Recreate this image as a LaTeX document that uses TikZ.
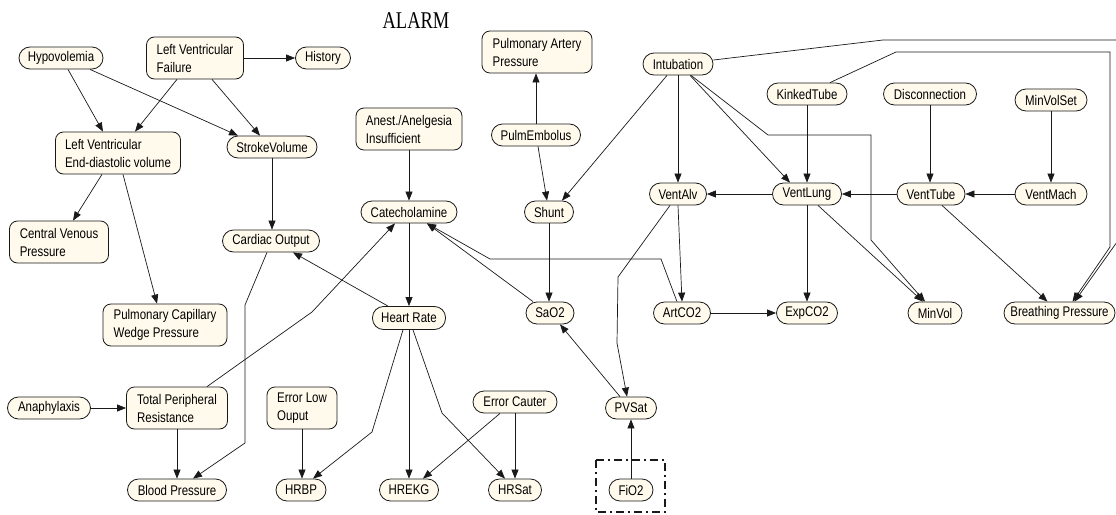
\documentclass[tikz,border=0pt]{standalone}
\usepackage{fontspec}
\setmainfont{Liberation Sans}[FakeStretch=0.82]
\newfontfamily\titlefont{Liberation Serif}[FakeStretch=0.77]
\usetikzlibrary{arrows.meta}
\definecolor{nodefill}{RGB}{255,250,236}
\definecolor{edgecol}{RGB}{25,25,25}
\begin{document}
\begin{tikzpicture}[x=1pt,y=-1pt,
  var/.style={draw=edgecol, fill=nodefill, line width=0.8pt, rounded corners=11pt,
    minimum height=22pt, inner xsep=1pt, inner ysep=0pt,
    font=\fontsize{14}{18}\selectfont},
  var2/.style={var, rounded corners=8pt, minimum height=42pt, align=left},
  link/.style={draw=edgecol, line width=0.7pt, -{Triangle[length=9pt,width=7pt]}},
  plain/.style={draw=edgecol, line width=0.7pt},
]
\useasboundingbox (0,0) rectangle (1116,514);
\clip (0,0) rectangle (1116,514);

% title
\node (title) at (416,21) {\titlefont\fontsize{24}{24}\selectfont ALARM};

% variables
\node[var, minimum width=84pt] (hypo) at (61,58) {Hypovolemia};
\node[var2, minimum width=97pt] (lvf) at (195,58) {Left Ventricular\\Failure};
\node[var, minimum width=55pt] (hist) at (323,58) {History};
\node[var2, minimum width=125pt] (lvedv) at (118,153) {Left Ventricular\\End-diastolic volume};
\node[var, minimum width=90pt] (sv) at (272,147) {StrokeVolume};
\node[var2, minimum width=99pt] (cvp) at (59,242) {Central Venous\\Pressure};
\node[var, minimum width=97pt] (co) at (271,241) {Cardiac Output};
\node[var2, minimum width=124pt] (pcwp) at (165,325) {Pulmonary Capillary\\Wedge Pressure};
\node[var, minimum width=83pt] (ana) at (49,408) {Anaphylaxis};
\node[var2, minimum width=101pt] (tpr) at (177,408) {Total Peripheral\\Resistance};
\node[var2, minimum width=70pt] (elo) at (302,408) {Error Low\\Ouput};
\node[var, minimum width=99pt] (bp) at (177,490) {Blood Pressure};
\node[var, minimum width=50pt] (hrbp) at (301,490) {HRBP};

\node[var2, minimum width=110pt] (pap) at (537,52) {Pulmonary Artery\\Pressure};
\node[var, minimum width=70pt] (intub) at (678,64) {Intubation};
\node[var2, minimum width=106pt] (anest) at (409,129) {Anest./Anelgesia\\Insufficient};
\node[var, minimum width=89pt] (pe) at (536,135) {PulmEmbolus};
\node[var, minimum width=96pt] (cat) at (409,212) {Catecholamine};
\node[var, minimum width=49pt] (shunt) at (549,212) {Shunt};
\node[var, minimum width=57pt] (ventalv) at (678,194) {VentAlv};

\node[var, minimum width=80pt] (kinked) at (807,94) {KinkedTube};
\node[var, minimum width=93pt] (disc) at (930,94) {Disconnection};
\node[var, minimum width=72pt] (mvs) at (1051,100) {MinVolSet};
\node[var, minimum width=69pt] (ventlung) at (807,194) {VentLung};
\node[var, minimum width=68pt] (venttube) at (931,194) {VentTube};
\node[var, minimum width=72pt] (ventmach) at (1051,194) {VentMach};

\node[var, minimum width=73pt, minimum height=23pt] (hr) at (409,318) {Heart Rate};
\node[var, minimum width=48pt] (sao2) at (550,313) {SaO2};
\node[var, minimum width=57pt] (artco2) at (682,313) {ArtCO2};
\node[var, minimum width=61pt] (expco2) at (807,313) {ExpCO2};
\node[var, minimum width=54pt] (minvol) at (935,313) {MinVol};
\node[var, minimum width=111pt] (bpress) at (1059.5,313) {Breathing Pressure};

\node[var, minimum width=84pt] (ecaut) at (515,402) {Error Cauter};
\node[var, minimum width=51pt] (pvsat) at (631,408) {PVSat};
\node[var, minimum width=59pt] (hrekg) at (409,490) {HREKG};
\node[var, minimum width=53pt] (hrsat) at (515,490) {HRSat};
\node[var, minimum width=44pt] (fio2) at (631,490) {FiO2};

% dash-dotted frame round the fixed input
\draw[edgecol, line width=1.6pt, dash pattern=on 8pt off 4pt on 2pt off 4pt]
  (596,460) rectangle (665,512);

% left part
\draw[link] ([xshift=7pt]hypo.south) -- ([xshift=-15pt]lvedv.north);
\draw[link] ([xshift=29pt]hypo.south) -- ([xshift=-34pt]sv.north);
\draw[link] ([xshift=-18pt]lvf.south) -- ([xshift=17pt]lvedv.north);
\draw[link] ([xshift=17pt]lvf.south) -- ([xshift=-12pt]sv.north);
\draw[link] (lvf.east) -- (hist.west);
\draw[link] ([xshift=-16pt]lvedv.south) -- ([xshift=14pt]cvp.north);
\draw[link] ([xshift=5pt]lvedv.south) -- ([xshift=-8pt]pcwp.north);
\draw[link] (sv.south) -- (sv.south |- co.north);
\draw[link] ([xshift=-4pt]co.south) -- (245,305) -- (245,443) -- ([xshift=16pt]bp.north);
\draw[link] (tpr.south) -- (bp.north);
\draw[link] (ana.east) -- (tpr.west);
\draw[link] ([xshift=30pt]tpr.north) -- (312,312) -- ([xshift=-14pt]cat.south);
\draw[link] ([xshift=-21pt]hr.north) -- ([xshift=22pt]co.south);
\draw[link] (elo.south) -- (elo.south |- hrbp.north);

% centre part
\draw[link] (anest.south) -- (cat.north);
\draw[link] (cat.south) -- (hr.north);
\draw[link] ([xshift=-17pt]sao2.north) -- ([xshift=18pt]cat.south);
\draw[link] ([xshift=-5pt]artco2.north) -- (661,259) -- (490,259) -- ([xshift=18pt]cat.south);
\draw[link] (pe.north) -- (pe.north |- pap.south);
\draw[link] ([xshift=2pt]pe.south) -- ([xshift=-2pt]shunt.north);
\draw[link] ([xshift=-11pt]intub.south) -- ([xshift=13pt]shunt.north);
\draw[link] (shunt.south) -- (shunt.south |- sao2.north);
\draw[link] ([xshift=-11pt]pvsat.north) -- ([xshift=10pt]sao2.south);
\draw[link] (fio2.north) -- (pvsat.south);
\draw[link] ([xshift=-6pt]hr.south) -- (372,432) -- ([xshift=12pt]hrbp.north);
\draw[link] (hr.south) -- (hrekg.north);
\draw[link] ([xshift=4pt]hr.south) -- (442,413) -- ([xshift=-10pt]hrsat.north);
\draw[link] ([xshift=-15pt]ecaut.south) -- ([xshift=14pt]hrekg.north);
\draw[link] (ecaut.south) -- (hrsat.north);

% ventilation part
\draw[link] (intub.south) -- (ventalv.north);
\draw[link] (ventlung.west) -- (ventalv.east);
\draw[link] (venttube.west) -- (ventlung.east);
\draw[link] (ventmach.west) -- (venttube.east);
\draw[link] (kinked.south) -- (ventlung.north);
\draw[link] (disc.south) -- (disc.south |- venttube.north);
\draw[link] (mvs.south) -- (ventmach.north);
\draw[link] ([xshift=12pt]intub.south) -- ([xshift=-17pt]ventlung.north);
\draw[link] ([xshift=13pt]intub.south) -- (768,135) -- (871,135) -- (871,240) -- ([xshift=-10pt]minvol.north);
\draw[link] ([xshift=11pt]ventlung.south) -- ([xshift=-12pt]minvol.north);
\draw[link] (ventlung.south) -- (expco2.north);
\draw[link] (ventalv.south) -- (artco2.north);
\draw[link] ([xshift=-8pt]ventalv.south) -- (618,277) -- (617,343) -- ([xshift=-4pt]pvsat.north);
\draw[link] ([xshift=11pt]venttube.south) -- ([xshift=-12pt]bpress.north);
\draw[link] ([xshift=23pt]kinked.north) -- (896,52) -- (1110,52) -- (1110,247) -- ([xshift=13pt]bpress.north);
\draw[link] ([yshift=4pt]intub.east) -- (883,40) -- (1122,40) -- (1122,235) -- ([xshift=15pt]bpress.north);
\draw[link] (artco2.east) -- (expco2.west);
\end{tikzpicture}
\end{document}
